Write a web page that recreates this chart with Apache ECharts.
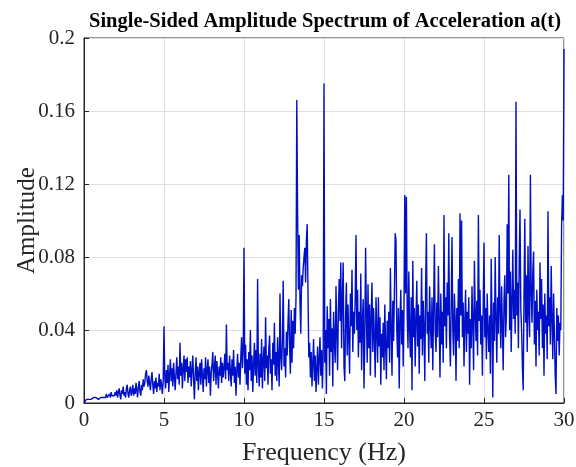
<!DOCTYPE html>
<html>
<head>
<meta charset="utf-8">
<script src="https://cdn.jsdelivr.net/npm/echarts@6/dist/echarts.min.js"></script>
<style>html,body{margin:0;padding:0;background:#fff;}#c{width:576px;height:467px;}</style>
</head>
<body>
<div id="c"></div>
<script>
// Frequency grid: 0 to 30 Hz, step 0.05 Hz
const fStep = 0.05;
const xTicks = [0, 5, 10, 15, 20, 25, 30];
const yTicks = [0, 0.04, 0.08, 0.12, 0.16, 0.2];
// Amplitude values, one row per 1 Hz (20 values each), plus the final point at 30 Hz
const amp00 = [0.000,0.001,0.001,0.002,0.001,0.001,0.002,0.001,0.002,0.002,0.001,0.002,0.003,0.002,0.002,0.003,0.002,0.003,0.002,0.003];
const amp01 = [0.002,0.003,0.002,0.004,0.003,0.002,0.004,0.003,0.005,0.003,0.002,0.004,0.005,0.003,0.006,0.004,0.003,0.005,0.004,0.006];
const amp02 = [0.004,0.007,0.003,0.006,0.008,0.004,0.002,0.007,0.005,0.009,0.004,0.006,0.003,0.008,0.010,0.005,0.003,0.007,0.009,0.004];
const amp03 = [0.006,0.010,0.004,0.008,0.005,0.011,0.007,0.003,0.009,0.012,0.006,0.004,0.010,0.007,0.013,0.009,0.011,0.016,0.018,0.012];
const amp04 = [0.009,0.015,0.011,0.007,0.013,0.017,0.010,0.005,0.012,0.008,0.014,0.006,0.011,0.009,0.016,0.007,0.013,0.010,0.005,0.012];
const amp05 = [0.042,0.014,0.008,0.018,0.011,0.021,0.006,0.016,0.024,0.012,0.019,0.009,0.022,0.014,0.007,0.017,0.025,0.013,0.020,0.010];
const amp06 = [0.033,0.015,0.022,0.008,0.019,0.026,0.012,0.024,0.017,0.025,0.011,0.020,0.014,0.023,0.009,0.018,0.026,0.013,0.002,0.016];
const amp07 = [0.025,0.012,0.020,0.007,0.017,0.022,0.010,0.024,0.015,0.006,0.019,0.013,0.025,0.009,0.018,0.024,0.011,0.020,0.004,0.016];
const amp08 = [0.021,0.028,0.012,0.019,0.026,0.010,0.023,0.017,0.008,0.020,0.015,0.025,0.011,0.022,0.014,0.019,0.027,0.013,0.043,0.018];
const amp09 = [0.022,0.012,0.026,0.017,0.009,0.024,0.015,0.029,0.011,0.020,0.004,0.018,0.027,0.014,0.022,0.010,0.025,0.036,0.019,0.028];
const amp10 = [0.085,0.016,0.032,0.010,0.024,0.007,0.028,0.018,0.040,0.012,0.026,0.006,0.021,0.033,0.015,0.029,0.011,0.068,0.020,0.009];
const amp11 = [0.027,0.014,0.035,0.008,0.023,0.031,0.012,0.047,0.019,0.026,0.010,0.030,0.037,0.016,0.024,0.007,0.033,0.021,0.044,0.015];
const amp12 = [0.028,0.012,0.036,0.022,0.009,0.060,0.025,0.018,0.034,0.067,0.020,0.030,0.014,0.039,0.026,0.044,0.057,0.031,0.016,0.051];
const amp13 = [0.022,0.045,0.030,0.052,0.038,0.058,0.166,0.104,0.062,0.092,0.055,0.038,0.070,0.064,0.074,0.080,0.085,0.066,0.089,0.098];
const amp14 = [0.060,0.025,0.033,0.014,0.028,0.009,0.022,0.035,0.012,0.026,0.006,0.019,0.031,0.010,0.024,0.036,0.015,0.029,0.008,0.027];
const amp15 = [0.175,0.022,0.040,0.005,0.053,0.030,0.046,0.015,0.057,0.028,0.041,0.009,0.050,0.034,0.022,0.064,0.038,0.018,0.052,0.068];
const amp16 = [0.045,0.077,0.030,0.058,0.077,0.020,0.012,0.048,0.066,0.026,0.054,0.035,0.016,0.060,0.042,0.073,0.028,0.050,0.038,0.058];
const amp17 = [0.092,0.040,0.062,0.025,0.050,0.033,0.071,0.018,0.045,0.057,0.008,0.036,0.085,0.047,0.022,0.065,0.030,0.054,0.015,0.048];
const amp18 = [0.066,0.028,0.052,0.036,0.014,0.058,0.040,0.022,0.058,0.031,0.047,0.010,0.038,0.025,0.044,0.018,0.054,0.032,0.013,0.045];
const amp19 = [0.030,0.050,0.022,0.074,0.041,0.015,0.056,0.034,0.060,0.093,0.089,0.040,0.025,0.052,0.008,0.045,0.062,0.032,0.051,0.020];
const amp20 = [0.055,0.114,0.060,0.113,0.048,0.030,0.072,0.040,0.025,0.058,0.007,0.078,0.036,0.052,0.020,0.046,0.067,0.031,0.054,0.016];
const amp21 = [0.048,0.035,0.074,0.026,0.056,0.041,0.012,0.062,0.093,0.038,0.050,0.022,0.064,0.044,0.030,0.058,0.018,0.052,0.087,0.040];
const amp22 = [0.028,0.055,0.036,0.075,0.046,0.014,0.060,0.032,0.050,0.022,0.103,0.042,0.058,0.030,0.066,0.048,0.093,0.036,0.020,0.054];
const amp23 = [0.091,0.040,0.026,0.060,0.045,0.012,0.052,0.034,0.068,0.030,0.104,0.048,0.100,0.036,0.055,0.020,0.044,0.062,0.028,0.050];
const amp24 = [0.038,0.058,0.010,0.046,0.030,0.064,0.042,0.018,0.078,0.050,0.034,0.056,0.026,0.103,0.045,0.062,0.032,0.048,0.015,0.054];
const amp25 = [0.088,0.036,0.052,0.024,0.060,0.040,0.028,0.048,0.016,0.079,0.044,0.003,0.055,0.034,0.080,0.046,0.022,0.058,0.038,0.092];
const amp26 = [0.050,0.030,0.064,0.042,0.018,0.056,0.070,0.036,0.048,0.098,0.060,0.125,0.040,0.072,0.028,0.055,0.084,0.046,0.062,0.038];
const amp27 = [0.165,0.048,0.066,0.030,0.078,0.106,0.052,0.040,0.020,0.007,0.058,0.101,0.044,0.070,0.028,0.086,0.050,0.036,0.125,0.060];
const amp28 = [0.044,0.072,0.083,0.032,0.056,0.020,0.062,0.040,0.050,0.026,0.077,0.046,0.068,0.030,0.054,0.015,0.060,0.038,0.048,0.024];
const amp29 = [0.105,0.042,0.058,0.032,0.075,0.046,0.024,0.060,0.038,0.015,0.005,0.052,0.034,0.048,0.026,0.044,0.040,0.097,0.114,0.100];
const amp30 = [0.194];

const amplitude = [].concat(amp00,amp01,amp02,amp03,amp04,amp05,amp06,amp07,amp08,amp09,
  amp10,amp11,amp12,amp13,amp14,amp15,amp16,amp17,amp18,amp19,
  amp20,amp21,amp22,amp23,amp24,amp25,amp26,amp27,amp28,amp29,amp30);
const seriesData = amplitude.map((v, i) => [+(i * fStep).toFixed(2), v]);

const txt = '#262626';
const serif = '"Liberation Serif", "DejaVu Serif", serif';
const chart = echarts.init(document.getElementById('c'), null, {renderer: 'canvas'});
chart.setOption({
  animation: false,
  backgroundColor: '#ffffff',
  title: {
    text: 'Single-Sided Amplitude Spectrum of Acceleration a(t)',
    left: 320, top: 6, textAlign: 'center',
    textStyle: {fontFamily: serif, fontWeight: 'bold', fontSize: 20.5, color: '#000'}
  },
  grid: {left: 84, right: 12, top: 38, bottom: 64, containLabel: false, outerBoundsMode: 'none',
    show: true, borderColor: txt, borderWidth: 1, backgroundColor: 'transparent'},
  xAxis: {
    type: 'value', min: xTicks[0], max: xTicks[xTicks.length - 1], interval: 5,
    name: 'Frequency (Hz)', nameLocation: 'middle', nameGap: 37, nameMoveOverlap: false,
    nameTextStyle: {fontFamily: serif, fontSize: 26, color: txt},
    axisLine: {show: true, lineStyle: {color: txt, width: 1}},
    axisTick: {show: true, inside: true, length: 5, lineStyle: {color: txt}},
    axisLabel: {fontFamily: serif, fontSize: 21, color: txt, margin: 7},
    splitLine: {show: true, lineStyle: {color: '#dedede', width: 1}}
  },
  yAxis: {
    type: 'value', min: yTicks[0], max: yTicks[yTicks.length - 1], interval: 0.04,
    name: 'Amplitude', nameLocation: 'middle', nameGap: 44, nameMoveOverlap: false,
    nameTextStyle: {fontFamily: serif, fontSize: 25, color: txt},
    axisLine: {show: true, lineStyle: {color: txt, width: 1}},
    axisTick: {show: true, inside: true, length: 5, lineStyle: {color: txt}},
    axisLabel: {fontFamily: serif, fontSize: 21, color: txt, margin: 9,
      formatter: v => String(+v.toFixed(2))},
    splitLine: {show: true, lineStyle: {color: '#dedede', width: 1}}
  },
  series: [{
    type: 'line', data: seriesData, showSymbol: false, symbol: 'none',
    lineStyle: {color: '#0010c8', width: 1.4}, clip: true
  }]
});
</script>
</body>
</html>
